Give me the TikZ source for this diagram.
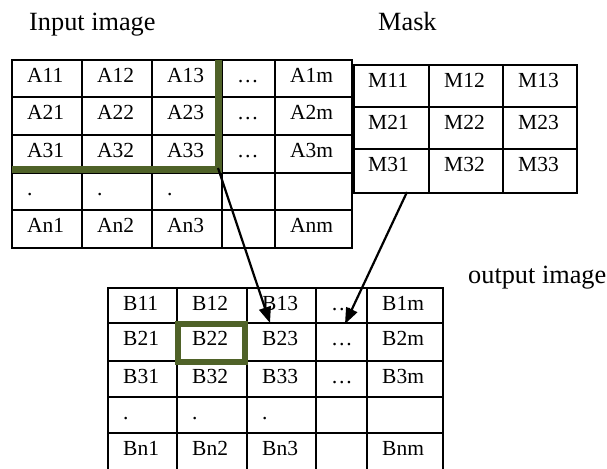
\documentclass[tikz,border=0pt]{standalone}
\usepackage{fontspec}
\setmainfont{Liberation Serif}
\usetikzlibrary{arrows.meta}
\definecolor{olivedark}{RGB}{79,98,40}
\tikzset{
  cell/.style={anchor=base west, inner sep=0pt, font=\fontsize{21.5}{25}\selectfont},
  title/.style={anchor=base west, inner sep=0pt, font=\fontsize{26.3}{30}\selectfont},
  gridline/.style={line width=2pt},
  hilite/.style={draw=olivedark, line width=6.5pt, miter limit=10},
  pointer/.style={line width=2.2pt, -{Triangle[length=16pt,width=12pt]}},
}
\begin{document}
\begin{tikzpicture}[x=1pt,y=-1pt]
\clip (0,0) rectangle (607,468);
\fill[white] (0,0) rectangle (607,468);

% titles
\node[title] (tin)  at (29,31)   {Input image};
\node[title] (tmk)  at (378,31)  {Mask};
\node[title] (tout) at (468,283) {output image};

% ---------- input image A ----------
\draw[gridline] (12,60) rectangle (352,248);
\foreach \x in {82,152,222,275} \draw[gridline] (\x,60) -- (\x,248);
\foreach \y in {97,135,173,210} \draw[gridline] (12,\y) -- (352,\y);
\foreach \r/\y in {1/82.5,2/119.5,3/157.5} {
  \node[cell] (a\r1) at (27,\y)  {A\r1};
  \node[cell] (a\r2) at (97,\y)  {A\r2};
  \node[cell] (a\r3) at (167,\y) {A\r3};
  \node[cell] (a\r4) at (237,\y) {…};
  \node[cell] (a\r5) at (290,\y) {A\r m};
}
\node[cell] (a41) at (27,195.5)  {.};
\node[cell] (a42) at (97,195.5)  {.};
\node[cell] (a43) at (167,195.5) {.};
\node[cell] (an1) at (27,232.5)  {An1};
\node[cell] (an2) at (97,232.5)  {An2};
\node[cell] (an3) at (167,232.5) {An3};
\node[cell] (anm) at (290,232.5) {Anm};

% 3x3 window on A
\draw[hilite] (12,169.5) -- (218.5,169.5) -- (218.5,60);

% ---------- mask M ----------
\draw[gridline] (354,65) rectangle (577,193);
\foreach \x in {429,503} \draw[gridline] (\x,65) -- (\x,193);
\foreach \y in {107,149} \draw[gridline] (354,\y) -- (577,\y);
\foreach \r/\y in {1/87.5,2/129.5,3/171.5} {
  \node[cell] (m\r1) at (368,\y) {M\r1};
  \node[cell] (m\r2) at (444,\y) {M\r2};
  \node[cell] (m\r3) at (518,\y) {M\r3};
}

% ---------- output image B ----------
\draw[gridline] (108,288) rectangle (443,472);
\foreach \x in {177,247,316,367} \draw[gridline] (\x,288) -- (\x,472);
\foreach \y in {323,361,397,433} \draw[gridline] (108,\y) -- (443,\y);
\foreach \r/\y in {1/310.5,2/345.5,3/383.5} {
  \node[cell] (b\r1) at (123,\y) {B\r1};
  \node[cell] (b\r2) at (192,\y) {B\r2};
  \node[cell] (b\r3) at (262,\y) {B\r3};
  \node[cell] (b\r4) at (331,\y) {…};
  \node[cell] (b\r5) at (382,\y) {B\r m};
}
\node[cell] (b41) at (123,419.5) {.};
\node[cell] (b42) at (192,419.5) {.};
\node[cell] (b43) at (262,419.5) {.};
\node[cell] (bn1) at (123,455.5) {Bn1};
\node[cell] (bn2) at (192,455.5) {Bn2};
\node[cell] (bn3) at (262,455.5) {Bn3};
\node[cell] (bnm) at (382,455.5) {Bnm};

% result cell B22
\draw[hilite] (178,324) rectangle (245,362);

% ---------- arrows ----------
\coordinate (acorner) at (218,168);
\coordinate (mfoot)   at (407,192);
\coordinate (tipa)    at (270,323);
\coordinate (tipm)    at (345,324);
\draw[pointer] (acorner) -- (tipa);
\draw[pointer] (mfoot) -- (tipm);
\end{tikzpicture}
\end{document}
